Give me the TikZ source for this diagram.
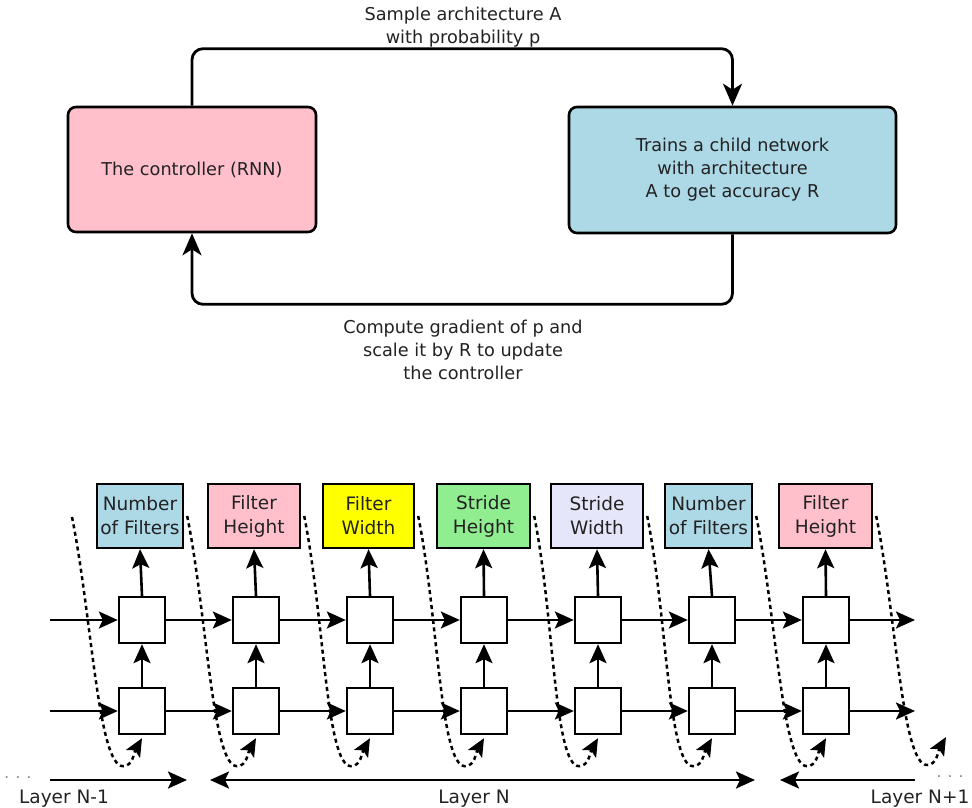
\documentclass[tikz,border=0pt]{standalone}
\usepackage{fontspec}
\setmainfont{DejaVu Sans}
\usetikzlibrary{arrows.meta}
\definecolor{textgray}{HTML}{222222}
\definecolor{ctrlpink}{HTML}{FFC0CB}
\definecolor{childblue}{HTML}{ADD8E6}
\definecolor{widthyellow}{HTML}{FFFF00}
\definecolor{stridegreen}{HTML}{90EE90}
\definecolor{stridelavender}{HTML}{E6E6FA}

\begin{document}
\begin{tikzpicture}[x=1pt,y=-1pt]
    \tikzstyle{bigbox}=[draw, line width=2.6pt, rounded corners=8pt, align=center, text=textgray, font=\fontsize{17.7}{23}\selectfont];
    \tikzstyle{feedback}=[draw, line width=2.8pt, rounded corners=11pt, -{Stealth[length=22pt,width=19pt,inset=6pt]}];
    \tikzstyle{note}=[align=center, text=textgray, font=\fontsize{17.7}{23}\selectfont];
    \tikzstyle{outbox}=[draw, line width=2.4pt, minimum width=92pt, minimum height=64pt, inner sep=3pt, align=center, text=textgray, font=\fontsize{18.5}{24}\selectfont];
    \tikzstyle{cell}=[draw, line width=2.4pt, fill=white, minimum size=46pt, inner sep=0pt];
    \tikzstyle{link}=[line width=2.6pt, -{Stealth[length=19pt,width=17pt,inset=4pt]}];
    \tikzstyle{span}=[line width=2.6pt, {Stealth[length=19pt,width=17pt,inset=4pt]}-{Stealth[length=19pt,width=17pt,inset=4pt]}];
    \tikzstyle{feed}=[line width=2.5pt, dash pattern=on 4pt off 3.5pt, -{Stealth[length=18pt,width=16pt,inset=4pt]}];
    \tikzstyle{layername}=[anchor=base, text=textgray, font=\fontsize{18.5}{24}\selectfont];
    \tikzstyle{dots}=[text=gray, font=\fontsize{15}{18}\selectfont];
    \useasboundingbox (0,0) rectangle (972,808);

    % controller loop
    \node[bigbox, fill=ctrlpink, minimum width=248pt, minimum height=125pt] (ctrl) at (192,169.5) {The controller (RNN)};
    \node[bigbox, fill=childblue, minimum width=327pt, minimum height=126pt] (child) at (732.5,170) {Trains a child network\\with architecture\\A to get accuracy R};
    \draw[feedback] (ctrl.north) -- ++(0,-57) -| (child.north);
    \draw[feedback] (child.south) -- ++(0,70) -| (ctrl.south);
    \node[note] (sample) at (463,27.5) {Sample architecture A\\with probability p};
    \node[note] (update) at (463,350) {Compute gradient of p and\\scale it by R to update\\the controller};

    % predictions
    \node[outbox, fill=childblue, minimum width=86pt] (out1) at (140,516) {Number\\of Filters};
    \node[outbox, fill=ctrlpink] (out2) at (254,516) {Filter\\Height};
    \node[outbox, fill=widthyellow, minimum width=91pt] (out3) at (368.5,516) {Filter\\Width};
    \node[outbox, fill=stridegreen, minimum width=93pt] (out4) at (483.5,516) {Stride\\Height};
    \node[outbox, fill=stridelavender] (out5) at (597,516) {Stride\\Width};
    \node[outbox, fill=childblue, minimum width=87pt] (out6) at (708.5,516) {Number\\of Filters};
    \node[outbox, fill=ctrlpink, minimum width=93pt] (out7) at (825.5,516) {Filter\\Height};

    % rnn cells
    \node[cell] (hi1) at (142,620) {};
    \node[cell] (hi2) at (256,620) {};
    \node[cell] (hi3) at (370,620) {};
    \node[cell] (hi4) at (484,620) {};
    \node[cell] (hi5) at (598,620) {};
    \node[cell] (hi6) at (712,620) {};
    \node[cell] (hi7) at (826,620) {};
    \node[cell] (lo1) at (142,711) {};
    \node[cell] (lo2) at (256,711) {};
    \node[cell] (lo3) at (370,711) {};
    \node[cell] (lo4) at (484,711) {};
    \node[cell] (lo5) at (598,711) {};
    \node[cell] (lo6) at (712,711) {};
    \node[cell] (lo7) at (826,711) {};
    \coordinate (hiin) at (50,620);
    \coordinate (hiout) at (915,620);
    \coordinate (loin) at (50,711);
    \coordinate (loout) at (915,711);

    \draw[link] (hiin) -- (hi1.west);
    \draw[link] (hi1) -- (hi2);
    \draw[link] (hi2) -- (hi3);
    \draw[link] (hi3) -- (hi4);
    \draw[link] (hi4) -- (hi5);
    \draw[link] (hi5) -- (hi6);
    \draw[link] (hi6) -- (hi7);
    \draw[link] (hi7.east) -- (hiout);
    \draw[link] (loin) -- (lo1.west);
    \draw[link] (lo1) -- (lo2);
    \draw[link] (lo2) -- (lo3);
    \draw[link] (lo3) -- (lo4);
    \draw[link] (lo4) -- (lo5);
    \draw[link] (lo5) -- (lo6);
    \draw[link] (lo6) -- (lo7);
    \draw[link] (lo7.east) -- (loout);

    \draw[link] (lo1) -- (hi1);
    \draw[link] (lo2) -- (hi2);
    \draw[link] (lo3) -- (hi3);
    \draw[link] (lo4) -- (hi4);
    \draw[link] (lo5) -- (hi5);
    \draw[link] (lo6) -- (hi6);
    \draw[link] (lo7) -- (hi7);
    \draw[link] (hi1.north) -- (out1.south);
    \draw[link] (hi2.north) -- (out2.south);
    \draw[link] (hi3.north) -- (out3.south);
    \draw[link] (hi4.north) -- (out4.south);
    \draw[link] (hi5.north) -- (out5.south);
    \draw[link] (hi6.north) -- (out6.south);
    \draw[link] (hi7.north) -- (out7.south);

    % fed back into the next step
    \coordinate (feedin) at (72,517);
    \coordinate (feedout) at (946,734);
    \draw[feed] (feedin) .. controls +(20,100) and +(-25,0) .. ([xshift=-19pt,yshift=-31pt]lo1.south) .. controls +(10,0) and +(-8,14) .. ([yshift=-3pt]lo1.south);
    \draw[feed] ([xshift=3pt]out1.east) .. controls +(20,100) and +(-25,0) .. ([xshift=-19pt,yshift=-31pt]lo2.south) .. controls +(10,0) and +(-8,14) .. ([yshift=-3pt]lo2.south);
    \draw[feed] ([xshift=3pt]out2.east) .. controls +(20,100) and +(-25,0) .. ([xshift=-19pt,yshift=-31pt]lo3.south) .. controls +(10,0) and +(-8,14) .. ([yshift=-3pt]lo3.south);
    \draw[feed] ([xshift=3pt]out3.east) .. controls +(20,100) and +(-25,0) .. ([xshift=-19pt,yshift=-31pt]lo4.south) .. controls +(10,0) and +(-8,14) .. ([yshift=-3pt]lo4.south);
    \draw[feed] ([xshift=3pt]out4.east) .. controls +(20,100) and +(-25,0) .. ([xshift=-19pt,yshift=-31pt]lo5.south) .. controls +(10,0) and +(-8,14) .. ([yshift=-3pt]lo5.south);
    \draw[feed] ([xshift=3pt]out5.east) .. controls +(20,100) and +(-25,0) .. ([xshift=-19pt,yshift=-31pt]lo6.south) .. controls +(10,0) and +(-8,14) .. ([yshift=-3pt]lo6.south);
    \draw[feed] ([xshift=3pt]out6.east) .. controls +(20,100) and +(-25,0) .. ([xshift=-19pt,yshift=-31pt]lo7.south) .. controls +(10,0) and +(-8,14) .. ([yshift=-3pt]lo7.south);
    \draw[feed] ([xshift=3pt]out7.east) .. controls +(20,100) and +(-25,0) .. ([xshift=-19pt,yshift=-31pt]feedout) .. controls +(10,0) and +(-8,14) .. ([yshift=-3pt]feedout);

    % layers
    \coordinate (prevA) at (50,780);
    \coordinate (prevB) at (187,780);
    \coordinate (curA) at (210,780);
    \coordinate (curB) at (755,780);
    \coordinate (nextA) at (780,780);
    \coordinate (nextB) at (915,780);
    \draw[link] (prevA) -- (prevB);
    \draw[span] (curA) -- (curB);
    \draw[link] (nextB) -- (nextA);
    \node[dots] (prevdots) at (18,778) {. . .};
    \node[dots] (nextdots) at (950,777) {. . .};
    \node[layername] (prevname) at (64,803) {Layer N-1};
    \node[layername] (curname) at (474,803) {Layer N};
    \node[layername] (nextname) at (920,803) {Layer N+1};
\end{tikzpicture}
\end{document}
